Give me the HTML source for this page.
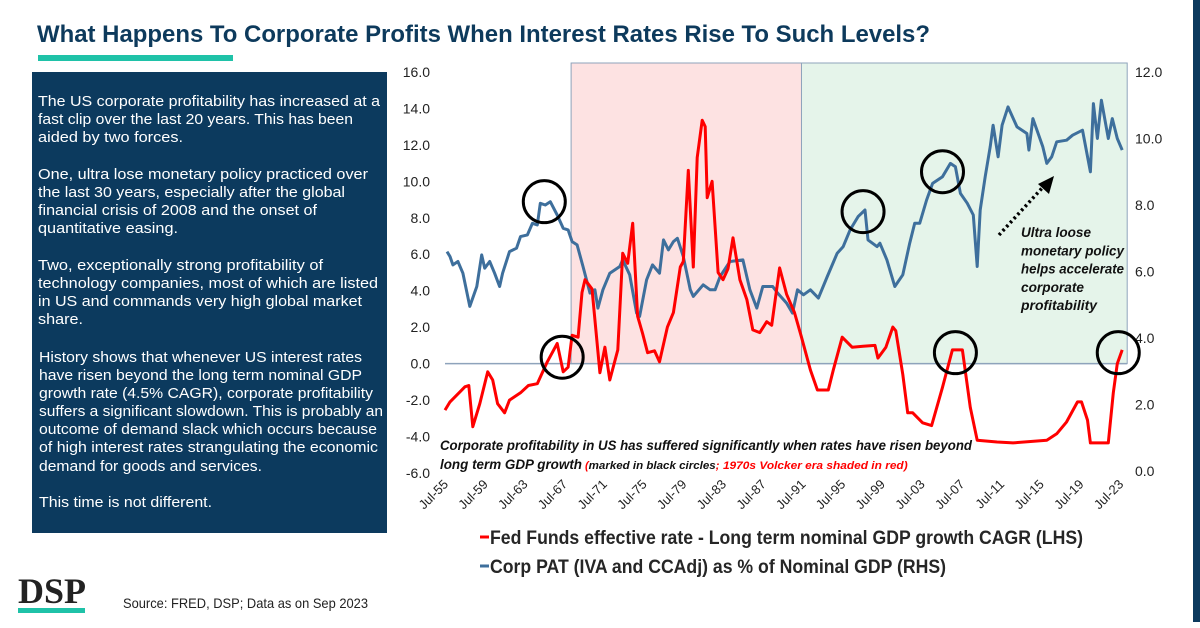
<!DOCTYPE html>
<html><head><meta charset="utf-8"><style>
html,body{margin:0;padding:0;background:#fff;}
svg{display:block;font-family:"Liberation Sans",sans-serif;}
</style></head><body>
<svg id="chart" width="1200" height="628" viewBox="0 0 1200 628" xmlns="http://www.w3.org/2000/svg">
<rect x="0" y="0" width="1200" height="628" fill="#fff"/>
<rect x="1193" y="0" width="7" height="622" fill="#0c3a5e"/>
<text x="37" y="42" font-size="24" font-weight="bold" fill="#0d3a5c" textLength="893" lengthAdjust="spacingAndGlyphs">What Happens To Corporate Profits When Interest Rates Rise To Such Levels?</text>
<rect x="38" y="55" width="195" height="6" fill="#1fc2a8"/>

<g>
<rect x="32" y="72" width="355" height="461" fill="#0c3a5e"/>
<g fill="#fff" font-size="15">
<text x="38" y="106" textLength="342" lengthAdjust="spacingAndGlyphs">The US corporate profitability has increased at a</text>
<text x="38" y="124" textLength="315" lengthAdjust="spacingAndGlyphs">fast clip over the last 20 years. This has been</text>
<text x="38" y="142" textLength="145" lengthAdjust="spacingAndGlyphs">aided by two forces.</text>
<text x="38" y="179" textLength="330" lengthAdjust="spacingAndGlyphs">One, ultra lose monetary policy practiced over</text>
<text x="38" y="197" textLength="307" lengthAdjust="spacingAndGlyphs">the last 30 years, especially after the global</text>
<text x="38" y="215" textLength="279" lengthAdjust="spacingAndGlyphs">financial crisis of 2008 and the onset of</text>
<text x="38" y="233" textLength="140" lengthAdjust="spacingAndGlyphs">quantitative easing.</text>
<text x="38" y="270" textLength="285" lengthAdjust="spacingAndGlyphs">Two, exceptionally strong profitability of</text>
<text x="38" y="288" textLength="340" lengthAdjust="spacingAndGlyphs">technology companies, most of which are listed</text>
<text x="38" y="306" textLength="324" lengthAdjust="spacingAndGlyphs">in US and commands very high global market</text>
<text x="38" y="324" textLength="45" lengthAdjust="spacingAndGlyphs">share.</text>
<text x="39" y="362" textLength="323" lengthAdjust="spacingAndGlyphs">History shows that whenever US interest rates</text>
<text x="39" y="380" textLength="323" lengthAdjust="spacingAndGlyphs">have risen beyond the long term nominal GDP</text>
<text x="39" y="398" textLength="334" lengthAdjust="spacingAndGlyphs">growth rate (4.5% CAGR), corporate profitability</text>
<text x="39" y="416" textLength="344" lengthAdjust="spacingAndGlyphs">suffers a significant slowdown. This is probably an</text>
<text x="39" y="434" textLength="338" lengthAdjust="spacingAndGlyphs">outcome of demand slack which occurs because</text>
<text x="39" y="452" textLength="339" lengthAdjust="spacingAndGlyphs">of high interest rates strangulating the economic</text>
<text x="39" y="471" textLength="223" lengthAdjust="spacingAndGlyphs">demand for goods and services.</text>
<text x="39" y="507" textLength="173" lengthAdjust="spacingAndGlyphs">This time is not different.</text>
</g>
</g>

<g>
<text x="18" y="603" font-family="Liberation Serif,serif" font-weight="bold" font-size="36" fill="#222" textLength="68" lengthAdjust="spacingAndGlyphs">DSP</text>
<rect x="18" y="608" width="67" height="5" fill="#1fc2a8"/>
</g>
<text x="123" y="608" font-size="14" fill="#222" textLength="245" lengthAdjust="spacingAndGlyphs">Source: FRED, DSP; Data as on Sep 2023</text>

<g id="plot"></g>
</svg>
<script>
const redYears=[1955.5,1956.0,1957.0,1957.5,1957.9,1958.3,1959.0,1959.8,1960.3,1960.8,1961.5,1962.0,1963.1,1963.9,1964.8,1965.8,1966.8,1967.4,1967.9,1968.3,1968.9,1969.3,1969.6,1970.3,1971.1,1971.6,1972.1,1972.9,1973.4,1973.9,1974.4,1974.9,1975.4,1975.9,1976.6,1977.1,1977.9,1978.5,1979.2,1979.5,1980.0,1980.5,1980.9,1981.4,1981.7,1981.9,1982.4,1983.0,1983.5,1984.0,1984.5,1985.2,1985.9,1986.5,1987.2,1987.9,1988.4,1989.2,1989.9,1990.7,1991.4,1992.3,1993.0,1994.1,1994.6,1995.5,1996.5,1997.6,1998.8,1999.1,1999.9,2000.6,2000.9,2001.6,2002.1,2002.6,2003.6,2004.5,2005.6,2006.6,2007.6,2008.4,2009.1,2011.1,2012.7,2016.1,2017.1,2018.1,2019.2,2019.6,2020.2,2020.5,2022.3,2022.8,2023.2,2023.7];
const redValues=[-2.55,-2.1,-1.55,-1.27,-1.2,-3.46,-2.2,-0.45,-0.9,-2.2,-2.7,-2.0,-1.6,-1.2,-1.1,0.1,1.1,-0.45,-0.2,1.55,1.45,3.9,4.6,4.1,-0.5,0.9,-0.9,0.75,6.05,5.5,7.7,2.6,1.65,0.6,0.7,0.1,2.0,2.8,5.3,5.6,10.6,5.3,11.3,13.35,13.0,9.1,10.0,5.0,4.6,5.2,6.9,4.6,3.5,1.85,1.7,2.3,2.1,5.25,3.8,2.8,1.45,-0.35,-1.45,-1.45,-0.35,1.45,0.9,0.95,1.0,0.3,0.9,2.0,1.8,-0.6,-2.7,-2.7,-3.25,-3.4,-1.3,0.75,0.75,-2.4,-4.2,-4.3,-4.35,-4.2,-3.85,-3.2,-2.1,-2.1,-3.1,-4.35,-4.35,-1.6,0.0,0.75];
const blueYears=[1955.7,1956.0,1956.3,1956.8,1957.3,1958.0,1958.7,1959.2,1959.5,1960.0,1960.5,1961.0,1961.3,1962.0,1962.7,1963.1,1963.8,1964.3,1964.8,1965.1,1965.6,1966.1,1966.8,1967.4,1967.9,1968.3,1968.8,1969.4,1970.1,1970.6,1970.9,1971.4,1972.1,1973.1,1973.4,1974.1,1974.8,1975.1,1975.8,1976.4,1977.1,1977.5,1978.0,1978.5,1978.9,1979.5,1980.2,1980.5,1981.5,1982.2,1982.7,1983.2,1984.2,1985.5,1986.2,1986.9,1987.5,1988.5,1989.0,1989.9,1990.5,1991.0,1991.6,1992.3,1993.1,1994.0,1995.0,1995.6,1996.3,1997.1,1997.8,1998.1,1999.0,1999.3,2000.0,2000.8,2001.6,2002.3,2002.8,2003.3,2004.0,2004.6,2005.6,2006.4,2006.9,2007.4,2008.1,2008.7,2009.1,2009.4,2009.9,2010.4,2010.7,2011.2,2011.6,2012.2,2013.1,2014.1,2014.3,2014.7,2015.7,2016.1,2016.6,2017.1,2018.1,2018.7,2019.7,2020.5,2020.8,2021.2,2021.6,2022.3,2022.7,2023.2,2023.7];
const blueValues=[6.6,6.45,6.2,6.3,5.95,4.95,5.55,6.5,6.1,6.3,5.95,5.55,5.95,6.6,6.7,7.05,7.1,7.45,7.4,8.05,8.0,8.1,7.7,7.3,7.25,6.9,6.8,6.15,5.35,5.45,4.9,5.45,5.95,6.15,6.35,5.9,4.75,4.65,5.75,6.2,5.95,6.95,6.65,6.9,7.0,6.45,5.45,5.25,5.6,5.45,5.45,5.85,6.3,6.35,5.45,4.9,5.55,5.55,5.35,5.05,4.75,5.45,5.3,5.45,5.2,5.85,6.55,6.75,7.25,7.65,7.85,6.95,6.75,6.85,6.35,5.55,5.9,6.85,7.45,7.45,8.15,8.65,8.85,9.25,9.15,8.35,8.05,7.7,6.15,7.85,8.85,9.75,10.4,9.45,10.4,10.95,10.35,10.15,9.65,10.6,9.75,9.25,9.45,9.9,9.95,10.1,10.25,9.0,11.05,10.0,11.15,10.0,10.6,10.0,9.65];
const leftTicks=[16,14,12,10,8,6,4,2,0,-2,-4,-6];
const rightTicks=[12,10,8,6,4,2,0];
const xTickLabels=["Jul-55","Jul-59","Jul-63","Jul-67","Jul-71","Jul-75","Jul-79","Jul-83","Jul-87","Jul-91","Jul-95","Jul-99","Jul-03","Jul-07","Jul-11","Jul-15","Jul-19","Jul-23"];
const xTickYears=[1955.5,1959.5,1963.5,1967.5,1971.5,1975.5,1979.5,1983.5,1987.5,1991.5,1995.5,1999.5,2003.5,2007.5,2011.5,2015.5,2019.5,2023.5];
const redShadeYears=[1968.2,1991.4];
const greenShadeYears=[1991.4,2024.2];
const circleYears=[1965.5,1967.3,1997.6,2005.6,2006.9,2023.3];
const circleLeftValues=[null,0.35,null,null,0.6,0.6];
const circleRightValues=[8.1,null,7.8,9.0,null,null];

const xS=y=>445+(y-1955.5)*9.93;
const yL=v=>363.6-v*18.23;
const yR=v=>471-v*33.25;
const NS="http://www.w3.org/2000/svg";
const plot=document.getElementById('plot');
function mk(tag,attrs,parent){const e=document.createElementNS(NS,tag);for(const k in attrs)e.setAttribute(k,attrs[k]);(parent||plot).appendChild(e);return e;}

let e;
e=mk('rect',{x:xS(redShadeYears[0]),y:63,width:xS(redShadeYears[1])-xS(redShadeYears[0]),height:yL(0)-63,fill:'#fde2e2',stroke:'#8ea3bb','stroke-width':1});


e=mk('rect',{x:xS(greenShadeYears[0]),y:63,width:xS(greenShadeYears[1])-xS(greenShadeYears[0]),height:yL(0)-63,fill:'#e5f4ea',stroke:'#8ea3bb','stroke-width':1});


e=mk('line',{x1:445,x2:xS(greenShadeYears[1]),y1:yL(0),y2:yL(0),stroke:'#8ea3bb','stroke-width':1.5});



leftTicks.forEach(v=>{
  const t=mk('text',{x:430,y:yL(v)+5,'text-anchor':'end','font-size':14,fill:'#222'});
  t.textContent=v.toFixed(1);
  
  
});
rightTicks.forEach(v=>{
  const t=mk('text',{x:1135,y:yR(v)+5,'font-size':14,fill:'#222'});
  t.textContent=v.toFixed(1);
  
  
});
xTickLabels.forEach((lab,i)=>{
  const x=xS(xTickYears[i]);
  const t=mk('text',{x:0,y:0,'text-anchor':'end','font-size':13,fill:'#222',transform:`translate(${x+4},${485}) rotate(-45)`});
  t.textContent=lab;
  
  
});

let dB=blueYears.map((y,i)=>(i?'L':'M')+xS(y).toFixed(1)+','+yR(blueValues[i]).toFixed(1)).join('');
e=mk('path',{d:dB,fill:'none',stroke:'#3e6f9c','stroke-width':3,'stroke-linejoin':'round'});


let dR=redYears.map((y,i)=>(i?'L':'M')+xS(y).toFixed(1)+','+yL(redValues[i]).toFixed(1)).join('');
e=mk('path',{d:dR,fill:'none',stroke:'#ff0000','stroke-width':3,'stroke-linejoin':'round'});



circleYears.forEach((y,i)=>{
  const cy=circleLeftValues[i]!==null?yL(circleLeftValues[i]):yR(circleRightValues[i]);
  const c=mk('circle',{cx:xS(y),cy:cy,r:21,fill:'none',stroke:'#000','stroke-width':3});
  
  
});

// annotations
e=mk('text',{x:440,y:450,'font-size':13.5,'font-weight':'bold','font-style':'italic',fill:'#111',textLength:532,lengthAdjust:'spacingAndGlyphs'});
e.textContent='Corporate profitability in US has suffered significantly when rates have risen beyond';


e=mk('text',{x:440,y:469,'font-size':13.5,'font-weight':'bold','font-style':'italic',fill:'#111',textLength:142,lengthAdjust:'spacingAndGlyphs'});
e.textContent='long term GDP growth';


e=mk('text',{x:585,y:469,'font-size':11,'font-weight':'bold','font-style':'italic',fill:'#111'});
e.innerHTML='<tspan fill="#ff0000">(</tspan><tspan textLength="127" lengthAdjust="spacingAndGlyphs">marked in black circles</tspan><tspan fill="#ff0000" textLength="192" lengthAdjust="spacingAndGlyphs">; 1970s Volcker era shaded in red)</tspan>';



const ultraLines=['Ultra loose','monetary policy','helps accelerate','corporate','profitability'];
const ultraW=[70,103,103,63,76];
ultraLines.forEach((s,i)=>{
  const t=mk('text',{x:1021,y:237+i*18.3,'font-size':13.5,'font-weight':'bold','font-style':'italic',fill:'#111',textLength:ultraW[i],lengthAdjust:'spacingAndGlyphs'});
  t.textContent=s;
  
  
});
e=mk('line',{x1:999,y1:235,x2:1044,y2:186,stroke:'#000','stroke-width':3.5,'stroke-dasharray':'2.5,3'});


e=mk('polygon',{points:'1054,176 1049,194 1038,184',fill:'#000'});



// legend
e=mk('line',{x1:480,x2:489,y1:537,y2:537,stroke:'#ff0000','stroke-width':3});


e=mk('text',{x:490,y:544,'font-size':19,'font-weight':'bold',fill:'#262626',textLength:593,lengthAdjust:'spacingAndGlyphs'});
e.textContent='Fed Funds effective rate - Long term nominal GDP growth CAGR (LHS)';


e=mk('line',{x1:480,x2:489,y1:566,y2:566,stroke:'#3e6f9c','stroke-width':3});


e=mk('text',{x:490,y:573,'font-size':19,'font-weight':'bold',fill:'#262626',textLength:456,lengthAdjust:'spacingAndGlyphs'});
e.textContent='Corp PAT (IVA and CCAdj) as % of Nominal GDP (RHS)';


</script>
</body></html>
